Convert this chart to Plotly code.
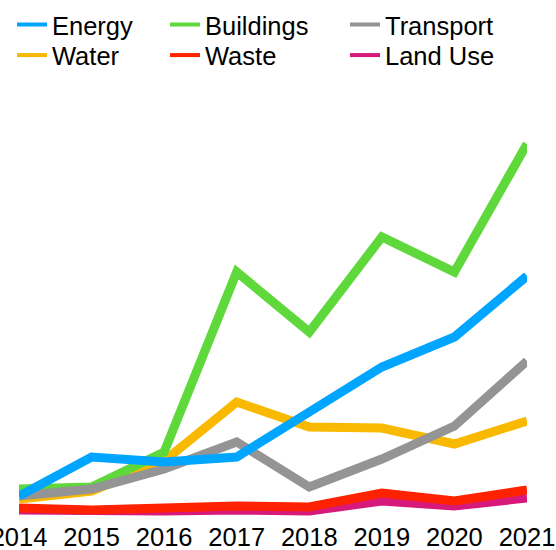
import plotly.graph_objects as go

years = [2014, 2015, 2016, 2017, 2018, 2019, 2020, 2021]
energy = [2.3, 6.2, 5.7, 6.2, 10.7, 15.2, 18.2, 24.3]
water = [2.0, 2.8, 5.8, 11.7, 9.2, 9.1, 7.5, 9.8]
buildings = [3.0, 3.2, 6.7, 24.7, 18.7, 28.2, 24.7, 37.5]
waste = [1.1, 0.9, 1.1, 1.3, 1.2, 2.6, 1.8, 2.9]
transport = [2.3, 3.0, 5.0, 7.7, 3.2, 6.0, 9.3, 15.8]
land_use = [0.9, 0.8, 0.8, 0.9, 0.8, 1.8, 1.3, 2.1]

series = [
    # name, values, color, legend id
    ("Land Use", land_use, "#d6197a", "legend6"),
    ("Waste", waste, "#ff2200", "legend4"),
    ("Water", water, "#f9b900", "legend2"),
    ("Buildings", buildings, "#5ed83a", "legend3"),
    ("Transport", transport, "#949494", "legend5"),
    ("Energy", energy, "#00a5ff", "legend"),
]

fig = go.Figure()
for name, vals, color, leg in series:
    fig.add_trace(go.Scatter(
        x=years, y=vals, name=name, mode="lines",
        line=dict(color=color, width=9),
        legendgroup=name, showlegend=False,
    ))
for name, vals, color, leg in series:
    fig.add_trace(go.Scatter(
        x=[None], y=[None], name=name, mode="lines",
        line=dict(color=color, width=4),
        legendgroup=name, showlegend=True, legend=leg,
    ))

leg_font = dict(family="Liberation Sans, Arial, Helvetica, sans-serif", size=25.5, color="#000000")
tick_font = dict(family="Liberation Sans, Arial, Helvetica, sans-serif", size=25.5, color="#000000")
L, R, T, B = 19, 29, 100, 31
pw = 556 - L - R
ph = 550 - T - B


def px_x(p):
    return (p - L) / pw


def px_y(p):
    return (550 - B - p) / ph


def leg(xp, yp):
    return dict(orientation="v", xanchor="left", yanchor="top", x=px_x(xp), y=px_y(yp),
                font=leg_font, bgcolor="rgba(0,0,0,0)", borderwidth=0)


fig.update_layout(
    width=556, height=550,
    margin=dict(l=L, r=R, t=T, b=B, autoexpand=False),
    paper_bgcolor="white", plot_bgcolor="white",
    font=leg_font,
    showlegend=True,
    legend=leg(12, 1.5),
    legend2=leg(12, 32),
    legend3=leg(165, 1.5),
    legend4=leg(165, 32),
    legend5=leg(345, 1.5),
    legend6=leg(345, 32),
    xaxis=dict(type="linear", range=[2014, 2021], tickvals=years, ticktext=[str(y) for y in years],
               showgrid=False, zeroline=False, showline=False, ticks="",
               tickfont=tick_font, ticklabeloverflow="allow"),
    yaxis=dict(type="linear", range=[0, 41.9], visible=False, showgrid=False, zeroline=False),
)

fig.write_html("out.html", config={"displayModeBar": False},
               post_script="document.body.style.margin='0';document.body.style.padding='0';")
